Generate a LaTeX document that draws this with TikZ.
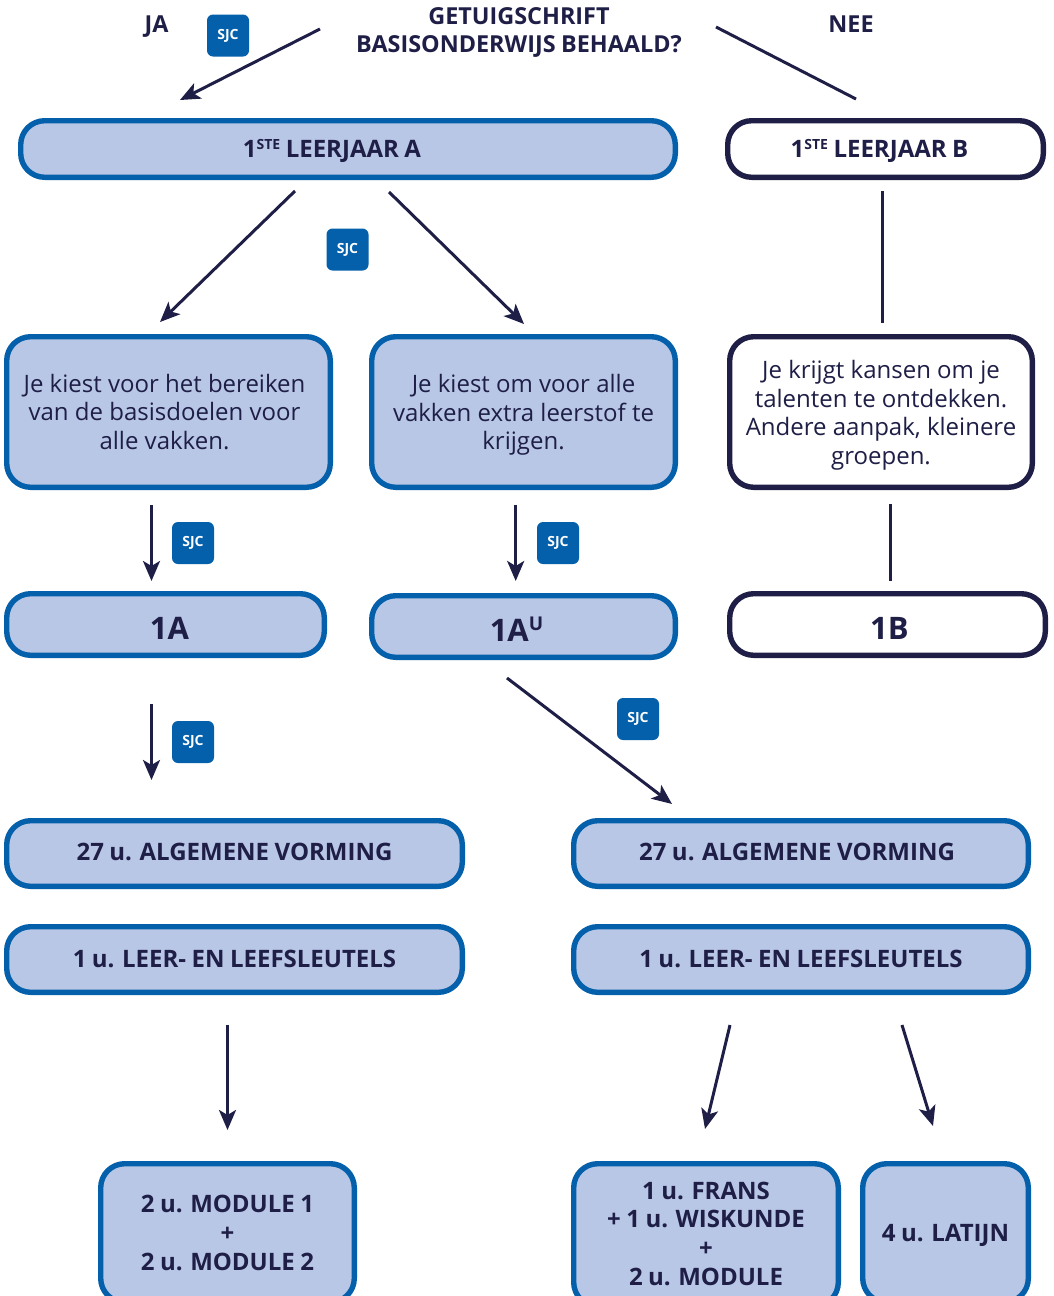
\documentclass[tikz,border=0pt]{standalone}
\usepackage{fontspec}
\setmainfont{Open Sans}[BoldFeatures={WordSpace=0.88}]
\usetikzlibrary{arrows.meta}
\definecolor{navy}{HTML}{1E1E46}
\definecolor{edgeblue}{HTML}{0460AB}
\definecolor{softblue}{HTML}{B9C7E6}
\newcommand{\fs}[1]{\fontsize{#1}{#1}\selectfont}
\newcommand{\bx}[7]{%
  \pgfmathsetmacro{\bw}{#5-#3-5.4}\pgfmathsetmacro{\bh}{#6-#4-5.4}%
  \pgfmathsetmacro{\bcx}{(#3+#5)/2}\pgfmathsetmacro{\bcy}{(#4+#6)/2}%
  \node[#2,minimum width=\bw pt,minimum height=\bh pt] (#1) at (\bcx,\bcy) {#7};}
\newcommand{\badge}[3]{\node[sjcbadge] (#1) at (#2,#3) {SJC};}
\newcommand{\supr}[1]{\raisebox{8.5pt}{\fs{14}#1}}
\tikzset{
  boxbase/.style={rectangle,rounded corners=24pt,line width=5.4pt,inner sep=0pt,align=center,text=navy},
  bluebox/.style={boxbase,draw=edgeblue,fill=softblue},
  whitebox/.style={boxbase,draw=navy,fill=white},
  title/.style={text=navy,font=\fs{23.4}\bfseries,align=center,inner sep=0pt},
  big/.style={font=\fs{31}\bfseries,text height=29pt,text depth=0pt},
  mid/.style={font=\fs{24}\bfseries,text height=17pt,text depth=0pt},
  body/.style={font=\fontsize{24}{28.6}\selectfont},
  bold28/.style={font=\fontsize{24}{28.8}\selectfont\bfseries},
  sjcbadge/.style={rectangle,rounded corners=6pt,fill=edgeblue,text=white,font=\fs{14}\bfseries,minimum width=42pt,minimum height=42pt,inner sep=0pt},
  arrowline/.style={draw=navy,line width=3pt,-{Stealth[length=20pt,width=17pt,inset=5pt]}},
  plainline/.style={draw=navy,line width=3pt}
}
\begin{document}
\begin{tikzpicture}[x=1pt,y=-1pt]
\useasboundingbox (0,0) rectangle (1054,1296);
\clip (0,0) rectangle (1054,1296);
% headings
\node[title] (ja) at (156.5,27) {JA};
\node[title] (nee) at (851,24.5) {NEE};
\node[title,font=\fontsize{23.4}{28}\selectfont\bfseries] (q) at (519,32) {GETUIGSCHRIFT\\BASISONDERWIJS BEHAALD?};
% boxes
\bx{la}{bluebox,mid}{18}{118}{678}{180}{\hspace*{-32pt}1\supr{STE} LEERJAAR A}
\bx{lb}{whitebox,mid}{725}{118}{1046}{180}{\hspace*{-12pt}1\supr{STE} LEERJAAR B}
\bx{ka}{bluebox,body}{4}{334}{333}{490}{\hspace*{-8pt}Je kiest voor het bereiken\\\hspace*{-8pt}van de basisdoelen voor\\\hspace*{-8pt}alle vakken.}
\bx{kb}{bluebox,body}{369}{334}{678}{490}{\rule{0pt}{24pt}Je kiest om voor alle\\vakken extra leerstof te\\krijgen.}
\bx{kc}{whitebox,body}{727}{334}{1035}{490}{\rule{0pt}{25pt}Je krijgt kansen om je\\talenten te ontdekken.\\Andere aanpak, kleinere\\groepen.}
\bx{oa}{bluebox,big}{4}{591}{327}{658}{\hspace*{8pt}1A}
\bx{oau}{bluebox,big}{369}{593}{678}{660}{\hspace*{-14pt}1A\raisebox{11pt}{\fs{19}U}}
\bx{ob}{whitebox,big}{727}{591}{1048}{658}{\hspace*{4pt}1B}
\bx{avl}{bluebox,mid,text depth=3pt}{4}{818}{465}{889}{27 u. ALGEMENE VORMING}
\bx{avr}{bluebox,mid,text depth=3pt}{571}{818}{1031}{889}{\hspace*{-8pt}27 u. ALGEMENE VORMING}
\bx{lll}{bluebox,mid,text depth=2pt}{4}{924}{465}{995}{1 u. LEER- EN LEEFSLEUTELS}
\bx{llr}{bluebox,mid,text depth=2pt}{571}{924}{1031}{995}{1 u. LEER- EN LEEFSLEUTELS}
\bx{mod}{bluebox,bold28}{98}{1161}{357}{1305}{2 u. MODULE 1\\+\\2 u. MODULE 2}
\bx{fr}{bluebox,bold28}{571}{1161}{841}{1309}{1 u. FRANS\\+ 1 u. WISKUNDE\\+\\2 u. MODULE\rule[-3pt]{0pt}{0pt}}
\bx{lat}{bluebox,mid}{860}{1161}{1031}{1305}{4 u. LATIJN}
% badges
\badge{s1}{228}{35.5}
\badge{s2}{347.5}{249.5}
\badge{s3}{193}{543}
\badge{s4}{558}{543}
\badge{s5}{193}{742}
\badge{s6}{638}{719}
% connector ends
\coordinate (c1a) at (320,29); \coordinate (c1b) at (180,100);
\coordinate (c2a) at (716,27); \coordinate (c2b) at (856,99);
\coordinate (c3a) at (295,191); \coordinate (c3b) at (160,322);
\coordinate (c4a) at (389,192); \coordinate (c4b) at (524,324);
\coordinate (c5a) at (882,191); \coordinate (c5b) at (882,323);
\coordinate (c6a) at (151.5,505); \coordinate (c6b) at (151.5,581);
\coordinate (c7a) at (515.7,505); \coordinate (c7b) at (515.7,581);
\coordinate (c8a) at (890.7,504); \coordinate (c8b) at (890.7,581);
\coordinate (c9a) at (151.5,704); \coordinate (c9b) at (151.5,780);
\coordinate (c10a) at (507,678); \coordinate (c10b) at (672,804);
\coordinate (c11a) at (227.5,1025); \coordinate (c11b) at (227.5,1130);
\coordinate (c12a) at (730,1025); \coordinate (c12b) at (705,1129);
\coordinate (c13a) at (902,1025); \coordinate (c13b) at (933,1126);
\draw[arrowline] (c1a) -- (c1b);
\draw[plainline] (c2a) -- (c2b);
\draw[arrowline] (c3a) -- (c3b);
\draw[arrowline] (c4a) -- (c4b);
\draw[plainline] (c5a) -- (c5b);
\draw[arrowline] (c6a) -- (c6b);
\draw[arrowline] (c7a) -- (c7b);
\draw[plainline] (c8a) -- (c8b);
\draw[arrowline] (c9a) -- (c9b);
\draw[arrowline] (c10a) -- (c10b);
\draw[arrowline] (c11a) -- (c11b);
\draw[arrowline] (c12a) -- (c12b);
\draw[arrowline] (c13a) -- (c13b);
\end{tikzpicture}
\end{document}
